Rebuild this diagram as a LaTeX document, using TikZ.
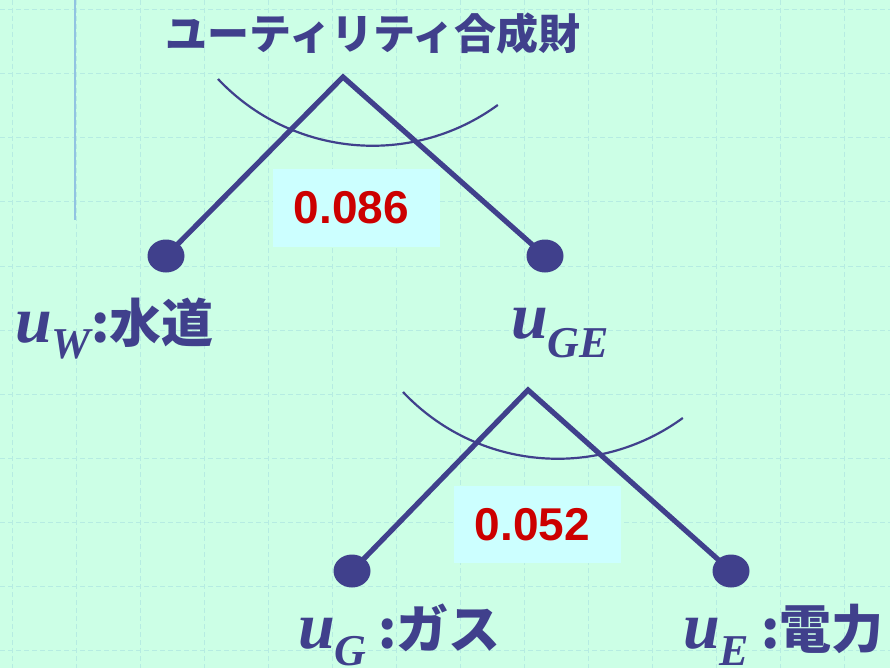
\documentclass[tikz,border=0pt]{standalone}
\usepackage{fontspec}
\newfontfamily\jp{Noto Sans CJK JP}
\newfontfamily\tms{Liberation Serif}
\newfontfamily\arl{Liberation Sans}
\usetikzlibrary{shapes.geometric}
\definecolor{bgc}{RGB}{204,255,230}
\definecolor{gridc}{RGB}{182,236,226}
\definecolor{ink}{RGB}{64,64,140}
\definecolor{numred}{RGB}{204,0,0}
\definecolor{boxc}{RGB}{204,255,255}
\definecolor{vlinec}{RGB}{145,195,225}
\begin{document}
\begin{tikzpicture}[x=1pt,y=-1pt,
  branch/.style={draw=ink,line width=5.2pt,miter limit=10},
  arcline/.style={draw=ink,line width=2.2pt},
  leaf/.style={ellipse,fill=ink,minimum width=37pt,minimum height=33pt,inner sep=0pt},
  numbox/.style={rectangle,fill=boxc,minimum width=167pt,minimum height=77pt,inner sep=0pt,
    text=numred,font=\arl\bfseries\fontsize{46}{46}\selectfont},
  lab/.style={inner sep=0pt,anchor=base west,text=ink},
  gridline/.style={draw=gridc,line width=1pt,dash pattern=on 5pt off 3pt}]
\fill[bgc] (0,0) rectangle (890,668);
\useasboundingbox (0,0) rectangle (890,668);
\foreach \gx in {12,76,...,844} \draw[gridline] (\gx,0) -- (\gx,668);
\foreach \gy in {10,74,...,650} \draw[gridline] (0,\gy) -- (890,\gy);
\draw[draw=vlinec,line width=1.5pt] (75,0) -- (75,220);

% title
\node[text=ink,inner sep=0pt,anchor=base,font=\jp\bfseries\fontsize{42}{42}\selectfont] (title) at (373,50) {ユーティリティ合成財};

% top tree
\coordinate (a1) at (343,77);
\node[leaf] (l1) at (166,256) {};
\node[leaf] (r1) at (545,256) {};
\draw[branch] (l1.center) -- (a1) -- (r1.center);
\draw[arcline] (218,79) arc[start angle=136.7,end angle=53.9,radius=212.5];
\node[numbox] (b1) at (356.5,208) {\hspace*{-10pt}0.086};

% bottom tree
\coordinate (a2) at (528,390);
\node[leaf] (l2) at (352,571) {};
\node[leaf] (r2) at (731,571) {};
\draw[branch] (l2.center) -- (a2) -- (r2.center);
\draw[arcline] (403,392) arc[start angle=136.7,end angle=53.9,radius=212.5];
\node[numbox] (b2) at (537.5,524.5) {\hspace*{-10pt}0.052};

% labels
\node[lab] (lw) at (15,342) {{\tms\bfseries\itshape\fontsize{66}{66}\selectfont u}\raisebox{-16pt}{\tms\bfseries\itshape\fontsize{44}{44}\selectfont W}{\jp\bfseries\fontsize{52}{52}\selectfont :水道}};
\node[lab] (lge) at (511,338) {{\tms\bfseries\itshape\fontsize{66}{66}\selectfont u}\raisebox{-19pt}{\tms\bfseries\itshape\fontsize{44}{44}\selectfont GE}};
\node[lab] (lg) at (298,648) {{\tms\bfseries\itshape\fontsize{66}{66}\selectfont u}\raisebox{-17pt}{\tms\bfseries\itshape\fontsize{44}{44}\selectfont G}\hspace{12pt}{\jp\bfseries\fontsize{52}{52}\selectfont :ガス}};
\node[lab] (le) at (683,648) {{\tms\bfseries\itshape\fontsize{66}{66}\selectfont u}\raisebox{-17pt}{\tms\bfseries\itshape\fontsize{44}{44}\selectfont E}\hspace{12pt}{\jp\bfseries\fontsize{52}{52}\selectfont :電力}};
\end{tikzpicture}
\end{document}
